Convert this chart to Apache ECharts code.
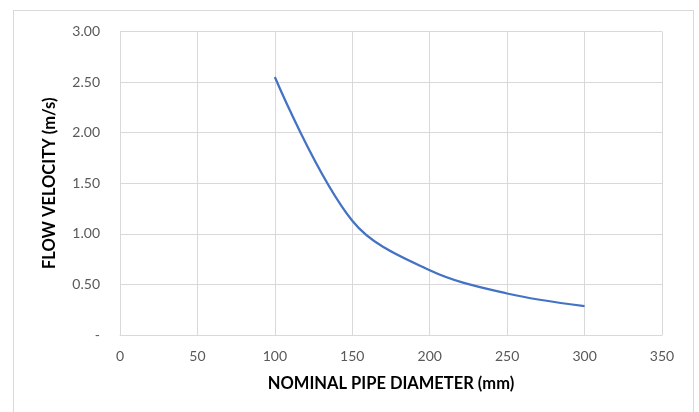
<!DOCTYPE html>
<html>
<head>
<meta charset="utf-8">
<script src="https://cdn.jsdelivr.net/npm/echarts@6/dist/echarts.min.js"></script>
<style>
html,body{margin:0;padding:0;background:#fff;}
#frame{position:absolute;left:13px;top:10px;width:681px;height:410px;border:1px solid #d9d9d9;box-sizing:border-box;}
#chart{position:absolute;left:0;top:0;width:699px;height:412px;}
</style>
</head>
<body>
<div id="frame"></div>
<div id="chart"></div>
<script>
const diameters = [100, 150, 200, 250, 300];
const velocities = [2.55, 1.13, 0.64, 0.41, 0.285];
const xTicks = [0, 50, 100, 150, 200, 250, 300, 350];
const yTicks = [0, 0.5, 1.0, 1.5, 2.0, 2.5, 3.0];

const font = 'Lato, "Open Sans", sans-serif';
const chart = echarts.init(document.getElementById('chart'));
chart.setOption({
  animation: false,
  grid: {left: 120, top: 31.5, right: 37, bottom: 77},
  xAxis: {
    type: 'value', min: xTicks[0], max: xTicks[xTicks.length-1], interval: 50,
    name: 'NOMINAL PIPE DIAMETER (mm)', nameLocation: 'middle', nameGap: 40,
    nameTextStyle: {fontFamily: font, fontWeight: 'bold', fontSize: 16.5, color: '#000'},
    axisLine: {show: true, lineStyle: {color: '#d9d9d9'}},
    axisTick: {show: false},
    axisLabel: {fontFamily: font, fontSize: 14, color: '#595959', margin: 14},
    splitLine: {show: true, lineStyle: {color: '#d9d9d9', width: 1}}
  },
  yAxis: {
    type: 'value', min: yTicks[0], max: yTicks[yTicks.length-1], interval: 0.5,
    name: 'FLOW VELOCITY (m/s)', nameLocation: 'middle', nameGap: 62,
    nameTextStyle: {fontFamily: font, fontWeight: 'bold', fontSize: 16.5, color: '#000'},
    axisLine: {show: false},
    axisTick: {show: false},
    axisLabel: {fontFamily: font, fontSize: 14, color: '#595959', margin: 20,
      formatter: v => v === 0 ? '-' : v.toFixed(2)},
    splitLine: {show: true, lineStyle: {color: '#d9d9d9', width: 1}}
  },
  series: [{
    type: 'line',
    data: diameters.map((d, i) => [d, velocities[i]]),
    smooth: 0.35,
    showSymbol: false,
    lineStyle: {color: '#4472C4', width: 2.25},
    itemStyle: {color: '#4472C4'}
  }]
});
</script>
</body>
</html>
